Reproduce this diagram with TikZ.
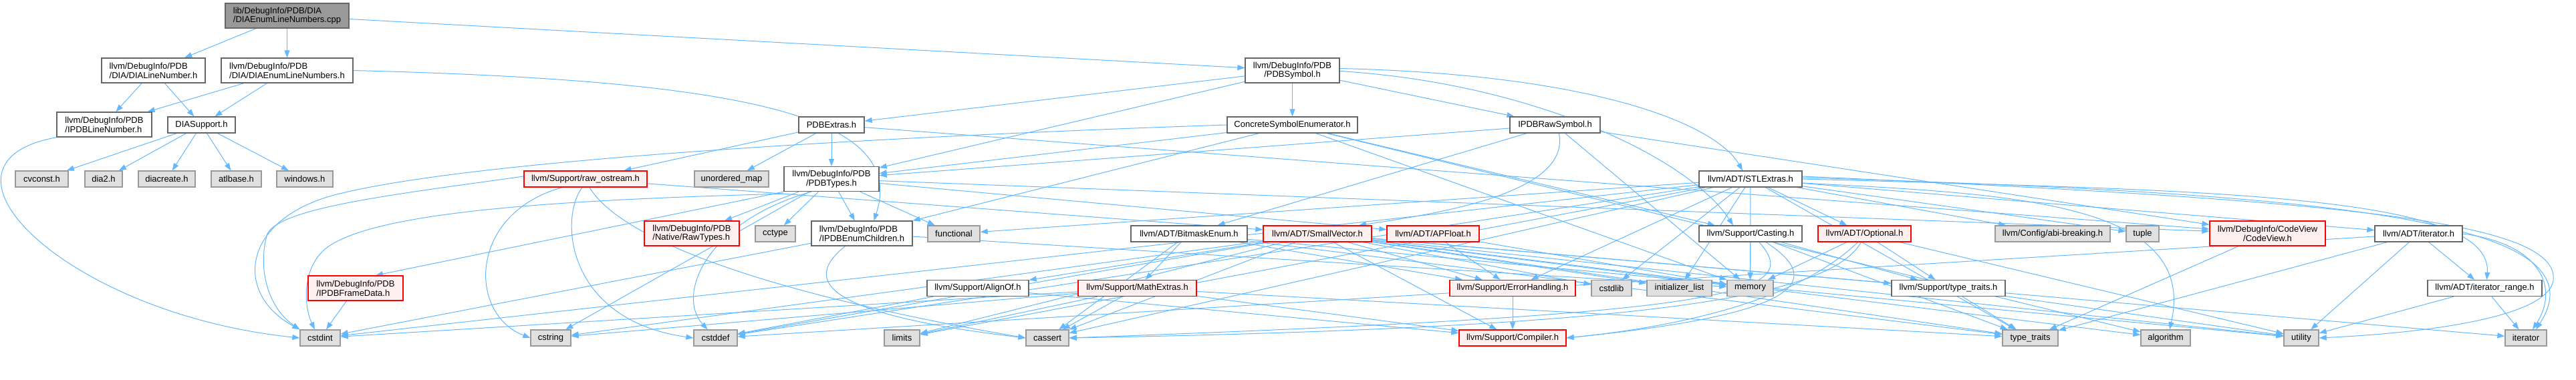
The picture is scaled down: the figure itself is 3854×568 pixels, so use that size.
\documentclass[tikz,border=0pt]{standalone}
\usepackage{fontspec}
\setmainfont{Liberation Sans}
\usetikzlibrary{arrows.meta}
\definecolor{eblue}{HTML}{63B8FF}
\definecolor{nborder}{HTML}{666666}
\definecolor{gborder}{HTML}{999999}
\definecolor{gfill}{HTML}{E0E0E0}
\definecolor{rfill}{HTML}{FFF0F0}
\definecolor{rootfill}{HTML}{999999}
\pgfdeclarelayer{bg}
\pgfsetlayers{bg,main}
\begin{document}
\begin{tikzpicture}[x=1pt,y=-1pt,
  box/.style={draw, line width=1.3pt, inner sep=0pt, font=\fontsize{13}{13.7}\selectfont, text=black},
  wn/.style={box, fill=white, draw=nborder},
  gn/.style={box, fill=gfill, draw=gborder},
  rn/.style={box, fill=rfill, draw=red},
  rootn/.style={box, fill=rootfill, draw=nborder},
  one/.style={minimum height=24pt},
  two/.style={minimum height=37pt},
  ed/.style={draw=eblue, line width=1pt, -{Triangle[length=11pt,width=8pt]}}
]
\useasboundingbox (0,0) rectangle (3854,568);
% row 1
\node[rootn,two,minimum width=185pt,align=left] (root) at (429.5,23.5) {lib/DebugInfo/PDB/DIA\\/DIAEnumLineNumbers.cpp};
% row 2
\node[wn,two,minimum width=155pt,align=left] (dialn) at (229.5,105.5) {llvm/DebugInfo/PDB\\/DIA/DIALineNumber.h};
\node[wn,two,minimum width=197pt,align=left] (diaeln) at (429.5,105.5) {llvm/DebugInfo/PDB\\/DIA/DIAEnumLineNumbers.h};
\node[wn,two,minimum width=141pt,align=center] (pdbsym) at (1933.5,105.5) {llvm/DebugInfo/PDB\\/PDBSymbol.h};
% row 3
\node[wn,two,minimum width=142pt,align=left] (ipdbln) at (156,186.5) {llvm/DebugInfo/PDB\\/IPDBLineNumber.h};
\node[wn,one,minimum width=101pt] (diasup) at (301.5,187) {DIASupport.h};
\node[wn,one,minimum width=98pt] (pdbextras) at (1244,187) {PDBExtras.h};
\node[wn,one,minimum width=195pt] (cse) at (1933.5,187) {ConcreteSymbolEnumerator.h};
\node[wn,one,minimum width=135pt] (ipdbraw) at (2326.5,187) {IPDBRawSymbol.h};
% row 4
\node[gn,one,minimum width=79pt] (cvconst) at (62.5,268) {cvconst.h};
\node[gn,one,minimum width=56pt] (diatwo) at (155,268) {dia2.h};
\node[gn,one,minimum width=85pt] (diacreate) at (249.5,268) {diacreate.h};
\node[gn,one,minimum width=75pt] (atlbase) at (353.5,268) {atlbase.h};
\node[gn,one,minimum width=84pt] (windows) at (456,268) {windows.h};
\node[rn,one,minimum width=184pt] (rawos) at (876,268) {llvm/Support/raw\_ostream.h};
\node[gn,one,minimum width=111pt] (umap) at (1094.5,268) {unordered\_map};
\node[wn,two,minimum width=142pt,align=center] (pdbtypes) at (1244,268) {llvm/DebugInfo/PDB\\/PDBTypes.h};
\node[wn,one,minimum width=154pt] (stlextras) at (2619,268) {llvm/ADT/STLExtras.h};
% row 5
\node[rn,two,minimum width=142pt,align=left] (rawtypes) at (1035,349.5) {llvm/DebugInfo/PDB\\/Native/RawTypes.h};
\node[gn,one,minimum width=60pt] (cctype) at (1160,350) {cctype};
\node[wn,two,minimum width=151pt,align=left] (ipdbec) at (1289.5,349.5) {llvm/DebugInfo/PDB\\/IPDBEnumChildren.h};
\node[gn,one,minimum width=78pt] (functional) at (1427,350) {functional};
\node[wn,one,minimum width=174pt] (bitmask) at (1779,350) {llvm/ADT/BitmaskEnum.h};
\node[rn,one,minimum width=162pt] (smallvec) at (1971,350) {llvm/ADT/SmallVector.h};
\node[rn,one,minimum width=138pt] (apfloat) at (2144,350) {llvm/ADT/APFloat.h};
\node[wn,one,minimum width=154pt] (casting) at (2619,350) {llvm/Support/Casting.h};
\node[rn,one,minimum width=139pt] (optional) at (2789.5,350) {llvm/ADT/Optional.h};
\node[gn,one,minimum width=172pt] (abi) at (3071,350) {llvm/Config/abi-breaking.h};
\node[gn,one,minimum width=49pt] (tuple) at (3205.5,350) {tuple};
\node[rn,two,minimum width=173pt,align=center] (codeview) at (3392.5,349.5) {llvm/DebugInfo/CodeView\\/CodeView.h};
\node[wn,one,minimum width=131pt] (iterh) at (3618.5,350) {llvm/ADT/iterator.h};
% row 6
\node[rn,two,minimum width=142pt,align=left] (framedata) at (532,431.5) {llvm/DebugInfo/PDB\\/IPDBFrameData.h};
\node[wn,one,minimum width=152pt] (alignof) at (1463,431.5) {llvm/Support/AlignOf.h};
\node[rn,one,minimum width=177pt] (mathext) at (1701.5,431.5) {llvm/Support/MathExtras.h};
\node[rn,one,minimum width=188pt] (errh) at (2263,431.5) {llvm/Support/ErrorHandling.h};
\node[gn,one,minimum width=60pt] (cstdlib) at (2411,431.5) {cstdlib};
\node[gn,one,minimum width=97pt] (initl) at (2512.5,431.5) {initializer\_list};
\node[gn,one,minimum width=69pt] (memory) at (2618.5,431.5) {memory};
\node[wn,one,minimum width=170pt] (suptt) at (2915,431.5) {llvm/Support/type\_traits.h};
\node[wn,one,minimum width=171pt] (itrange) at (3717.5,431.5) {llvm/ADT/iterator\_range.h};
% row 7
\node[gn,one,minimum width=60pt] (cstdint) at (479,506) {cstdint};
\node[gn,one,minimum width=60pt] (cstring) at (824,506) {cstring};
\node[gn,one,minimum width=65pt] (cstddef) at (1070.5,506) {cstddef};
\node[gn,one,minimum width=53pt] (limits) at (1349.5,506) {limits};
\node[gn,one,minimum width=64pt] (cassert) at (1567,506) {cassert};
\node[rn,one,minimum width=160pt] (compiler) at (2263,506) {llvm/Support/Compiler.h};
\node[gn,one,minimum width=83pt] (typetraits) at (3037.5,506) {type\_traits};
\node[gn,one,minimum width=74pt] (algorithm) at (3240,506) {algorithm};
\node[gn,one,minimum width=52pt] (utility) at (3443,506) {utility};
\node[gn,one,minimum width=62pt] (iterator) at (3779,506) {iterator};

\begin{pgfonlayer}{bg}
\foreach \s/\t in {root/dialn, root/diaeln, root/pdbsym,
  dialn/ipdbln, dialn/diasup, diaeln/ipdbln, diaeln/diasup,
  diasup/cvconst, diasup/diatwo, diasup/diacreate, diasup/atlbase, diasup/windows,
  pdbsym/pdbextras, pdbsym/pdbtypes, pdbsym/cse, pdbsym/ipdbraw,
  pdbextras/pdbtypes, pdbextras/umap, pdbextras/rawos, pdbextras/codeview,
  cse/pdbtypes, cse/ipdbec, cse/casting, cse/memory, cse/algorithm,
  ipdbraw/pdbtypes, ipdbraw/bitmask, ipdbraw/memory, ipdbraw/codeview,
  rawos/smallvec,
  pdbtypes/rawtypes, pdbtypes/cctype, pdbtypes/ipdbec, pdbtypes/functional,
  pdbtypes/cstring, pdbtypes/apfloat, pdbtypes/codeview,
  ipdbec/cstdint, ipdbec/memory, framedata/cstdint,
  stlextras/functional, stlextras/cstdint, stlextras/cstddef, stlextras/limits, stlextras/cassert,
  stlextras/cstdlib, stlextras/initl, stlextras/memory, stlextras/errh, stlextras/optional,
  stlextras/abi, stlextras/tuple, stlextras/iterh, stlextras/typetraits,
  bitmask/mathext, bitmask/cassert, bitmask/errh, bitmask/typetraits, bitmask/utility,
  smallvec/compiler, smallvec/suptt, smallvec/algorithm, smallvec/cassert, smallvec/cstddef,
  smallvec/cstdlib, smallvec/cstring, smallvec/initl, smallvec/limits, smallvec/memory,
  smallvec/typetraits, smallvec/utility, smallvec/alignof, smallvec/errh, smallvec/iterator,
  alignof/compiler, alignof/cstddef,
  apfloat/errh, apfloat/memory,
  casting/memory, casting/suptt, casting/typetraits,
  optional/memory, optional/suptt, optional/utility,
  suptt/typetraits, suptt/utility, codeview/typetraits,
  iterh/itrange, iterh/utility, iterh/typetraits, iterh/cstddef,
  itrange/iterator, itrange/utility,
  mathext/compiler, mathext/cassert, mathext/cstdint, mathext/cstring, mathext/limits, mathext/typetraits,
  errh/compiler}
  \draw[ed] (\s) -- (\t);
% curved connectors
\draw[ed] (pdbtypes.south west) -- ([xshift=30pt]framedata.north);
\draw[ed] (diaeln.east) .. controls (1100,120) and (1360,170) .. ([xshift=18pt]ipdbec.north);
\draw[ed] (ipdbln.south west) .. controls (-130,245) and (100,470) .. (cstdint.west);
\draw[ed] ([yshift=3pt]pdbsym.east) .. controls (2400,112) and (2570,190) .. ([xshift=-12pt]stlextras.north);
\draw[ed] ([yshift=-1pt]pdbsym.east) .. controls (2300,125) and (2530,240) .. ([xshift=-26pt]casting.north);
\draw[ed] ([xshift=6pt]ipdbraw.south) .. controls (2350,290) and (2150,320) .. ([xshift=62pt]smallvec.north);
\draw[ed] ([xshift=-35pt]rawos.south) .. controls (700,320) and (700,470) .. (cstring.west);
\draw[ed] ([xshift=-5pt]rawos.south) .. controls (835,330) and (850,480) .. (cstddef.west);
\draw[ed] ([xshift=6pt]rawos.south) .. controls (930,360) and (1150,440) .. (cassert.west);
\draw[ed] ([yshift=4pt]rawos.west) .. controls (600,290) and (420,310) .. (400,350) .. controls (385,400) and (400,460) .. (cstdint.north west);
\draw[ed] ([yshift=-3pt]pdbtypes.south west) .. controls (800,300) and (560,320) .. (490,370) .. controls (450,400) and (455,460) .. ([xshift=-8pt]cstdint.north);
\draw[ed] ([xshift=-30pt]pdbtypes.south) .. controls (1060,330) and (1010,440) .. ([xshift=-12pt]cstddef.north);
\draw[ed] (cse.west) .. controls (1300,205) and (700,240) .. (500,292) .. controls (360,330) and (350,440) .. (cstdint.north west);
\draw[ed] ([xshift=-25pt]ipdbec.south) .. controls (1200,420) and (1230,470) .. (cassert.west);
\draw[ed] ([yshift=-6pt]stlextras.east) .. controls (3000,290) and (3290,300) .. ([xshift=6pt]algorithm.north);
\draw[ed] (stlextras.east) .. controls (3300,285) and (3730,290) .. ([xshift=3pt]itrange.north);
\draw[ed] ([yshift=2pt]stlextras.east) .. controls (3500,290) and (3900,330) .. ([xshift=15pt]iterator.north);
\draw[ed] ([yshift=4pt]stlextras.east) .. controls (3500,300) and (3830,330) .. (3820,420) .. controls (3810,480) and (3600,500) .. (utility.east);
\draw[ed] (iterh.east) .. controls (3800,365) and (3830,430) .. ([xshift=10pt]iterator.north);
\draw[ed] ([xshift=13pt]casting.south) .. controls (2700,440) and (2600,470) .. (cassert.east);
\draw[ed] ([xshift=23pt]casting.south) .. controls (2730,420) and (2700,470) .. (compiler.east);
\draw[ed] ([xshift=-10pt]optional.south) .. controls (2720,420) and (2600,480) .. (compiler.east);
\draw[ed] ([xshift=-5pt]optional.south) .. controls (2740,440) and (2500,490) .. (cassert.east);
\end{pgfonlayer}
\end{tikzpicture}
\end{document}
